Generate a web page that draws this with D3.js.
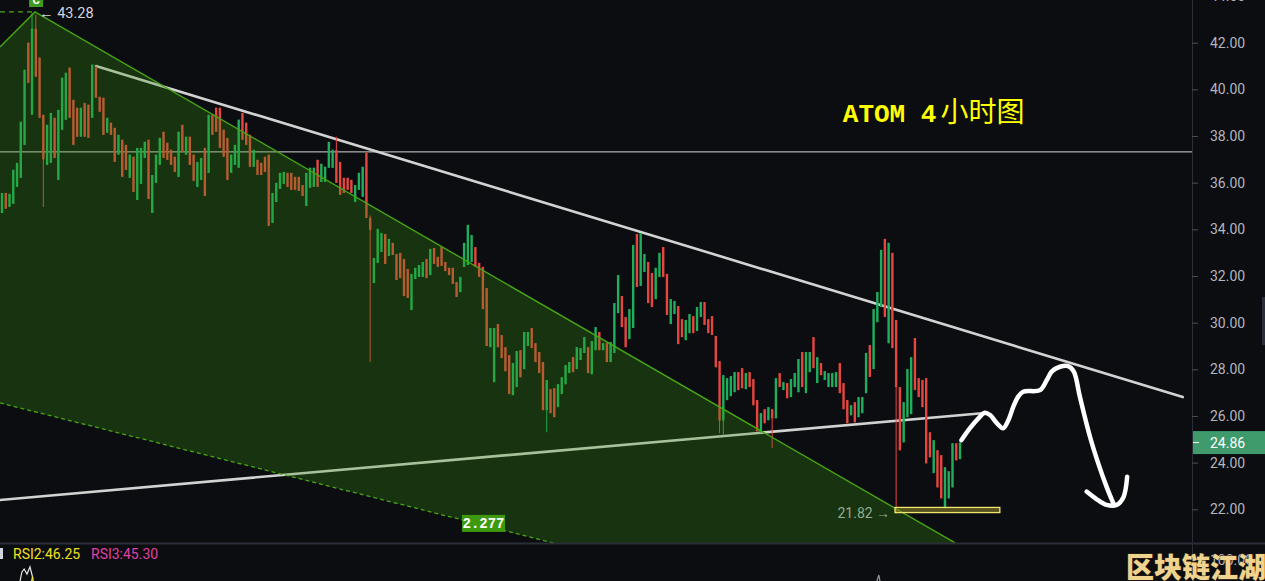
<!DOCTYPE html>
<html>
<head>
<meta charset="utf-8">
<script src="https://cdn.jsdelivr.net/npm/d3@7/dist/d3.min.js"></script>
<style>
  html, body { margin: 0; padding: 0; background: #0c0d10; overflow: hidden; }
  svg { display: block; }
</style>
</head>
<body>
<svg id="chart" width="1265" height="581"></svg>
<script>
// ---------- DATA ----------
// 4h candles, [open, high, low, close]
const candles = [
[34.70,35.56,34.70,35.56],[35.56,35.56,34.88,34.88],[34.96,35.52,34.96,35.52],[35.09,36.55,35.09,36.55],
[35.82,36.85,35.82,36.85],[36.21,38.61,36.21,38.61],[37.62,40.84,37.62,40.84],[42.00,42.00,40.28,40.28],
[38.91,43.28,38.91,42.60],[42.60,43.20,40.54,40.54],[41.36,41.36,38.78,38.78],[38.91,38.91,34.96,37.00],
[36.76,38.48,36.76,38.48],[36.85,38.99,36.85,38.99],[38.78,38.78,37.06,37.06],[36.12,39.12,36.12,39.12],
[38.27,40.50,38.27,40.50],[38.70,40.71,38.70,40.71],[40.93,40.93,38.78,38.78],[39.55,39.55,37.62,37.62],
[39.21,39.21,37.97,37.97],[37.97,39.21,37.97,39.21],[39.42,39.42,37.97,37.97],[39.34,39.34,37.92,37.92],
[38.78,41.06,38.78,41.06],[40.93,41.01,39.64,39.64],[39.68,39.68,39.04,39.04],[39.64,39.64,38.05,38.05],
[38.14,38.78,38.14,38.78],[38.57,38.57,38.05,38.05],[38.35,38.35,36.89,36.89],[37.20,38.05,37.20,38.05],
[37.84,37.84,36.25,36.25],[37.62,37.62,36.55,36.55],[36.21,37.20,36.21,37.20],[37.11,37.11,35.60,35.60],
[35.26,37.49,35.26,37.49],[35.95,37.49,35.95,37.49],[37.06,37.75,37.06,37.75],[37.84,37.84,35.30,35.30],
[34.70,36.33,34.70,36.33],[35.99,37.20,35.99,37.20],[36.76,37.92,36.76,37.92],[38.18,38.18,37.06,37.06],
[37.71,37.71,36.98,36.98],[37.41,37.41,36.76,36.76],[37.11,37.11,36.46,36.46],[36.25,38.18,36.25,38.18],
[38.48,38.48,37.32,37.32],[37.20,37.97,37.20,37.97],[37.97,37.97,36.76,36.76],[37.20,37.20,36.08,36.08],
[35.82,36.89,35.82,36.89],[36.12,37.06,36.12,37.06],[37.49,37.49,35.43,35.43],[36.42,38.91,36.42,38.91],
[38.91,38.91,38.05,38.05],[39.21,39.21,38.18,38.18],[39.21,39.21,37.49,37.49],[38.27,38.27,37.11,37.11],
[37.92,37.92,36.12,36.12],[36.42,37.20,36.42,37.20],[36.76,37.62,36.76,37.62],[36.64,38.70,36.64,38.70],
[38.99,38.99,37.84,37.84],[38.57,38.57,37.62,37.62],[38.05,38.05,36.68,36.68],[36.68,37.41,36.68,37.41],
[36.98,36.98,36.33,36.33],[36.85,36.85,36.33,36.33],[37.11,37.11,36.46,36.46],[37.20,37.20,34.15,34.15],
[34.28,35.56,34.28,35.56],[35.17,35.99,35.17,35.99],[35.73,36.42,35.73,36.42],[35.95,36.46,35.95,36.46],
[36.42,36.42,35.82,35.82],[36.42,36.42,35.69,35.69],[36.25,36.25,35.69,35.69],[36.25,36.25,35.65,35.65],
[35.90,35.90,35.43,35.43],[35.00,36.42,35.00,36.42],[35.78,36.64,35.78,36.64],[35.82,36.64,35.82,36.64],
[36.98,36.98,35.82,35.82],[36.03,36.81,36.03,36.81],[36.03,36.68,36.03,36.68],[36.64,37.75,36.64,37.75],
[36.64,37.41,36.64,37.41],[37.40,37.97,35.99,35.99],[36.89,36.89,35.48,35.48],[36.21,36.21,35.56,35.56],
[36.21,36.21,35.69,35.69],[36.12,36.12,35.56,35.56],[35.17,35.90,35.17,35.90],[35.69,36.42,35.69,36.42],
[35.39,36.68,35.39,36.68],[37.28,37.28,34.49,34.49],[34.49,34.60,28.31,33.98],[31.70,32.77,31.70,32.77],
[32.56,34.02,32.56,34.02],[33.03,33.84,33.03,33.84],[33.80,33.80,32.52,32.52],[32.86,33.59,32.86,33.59],
[33.42,33.42,32.90,32.90],[32.94,32.94,31.83,31.83],[32.99,32.99,31.91,31.91],[32.73,32.73,31.14,31.14],
[32.30,32.30,31.06,31.06],[30.54,32.09,30.54,32.09],[31.87,32.35,31.87,32.35],[31.96,32.47,31.96,32.47],
[31.96,32.60,31.96,32.60],[32.73,32.73,31.91,31.91],[32.04,33.16,32.04,33.16],[33.20,33.20,32.52,32.52],
[32.82,32.82,32.39,32.39],[33.24,33.24,32.43,32.43],[32.60,32.60,32.21,32.21],[32.35,32.35,32.04,32.04],
[32.35,32.35,31.66,31.66],[31.74,31.74,31.10,31.10],[31.31,31.96,31.31,31.96],[32.39,33.42,32.39,33.42],
[32.47,34.19,32.47,34.19],[32.60,33.76,32.60,33.76],[33.24,33.24,32.39,32.39],[32.56,32.56,31.96,31.96],
[32.39,32.39,30.58,30.58],[31.48,31.48,29.00,29.00],[28.95,29.77,28.95,29.77],[27.45,29.77,27.45,29.77],
[29.94,29.94,28.95,28.95],[29.47,29.47,28.48,28.48],[28.95,28.95,27.92,27.92],[28.61,28.61,26.94,26.94],
[26.89,28.27,26.89,28.27],[27.24,28.78,27.24,28.78],[28.82,28.82,27.66,27.66],[28.01,29.60,28.01,29.60],
[29.00,29.60,29.00,29.60],[29.77,29.77,28.91,28.91],[29.12,29.12,28.31,28.31],[28.74,28.74,27.84,27.84],
[28.31,28.31,26.25,26.25],[26.25,27.54,25.30,27.54],[27.15,27.15,26.12,26.12],[27.19,27.19,25.95,25.95],
[26.38,27.36,26.38,27.36],[26.94,27.66,26.94,27.66],[27.36,28.18,27.36,28.18],[27.84,28.31,27.84,28.31],
[28.52,28.52,27.88,27.88],[28.01,28.95,28.01,28.95],[28.40,28.91,28.40,28.91],[28.70,29.38,28.70,29.38],
[28.95,28.95,27.84,27.84],[27.79,29.21,27.79,29.21],[28.82,29.81,28.82,29.81],[29.60,29.60,28.82,28.82],
[28.82,29.12,28.82,29.12],[29.12,29.12,28.31,28.31],[28.31,29.17,28.31,29.17],[28.70,30.84,28.70,30.84],
[30.41,32.04,30.41,32.04],[31.14,31.14,29.81,29.81],[30.24,30.24,28.95,28.95],[29.30,30.58,29.30,30.58],
[29.77,33.33,29.77,33.33],[33.80,33.80,31.53,31.53],[31.57,33.84,31.57,33.84],[32.17,32.94,32.17,32.94],
[32.60,32.60,30.84,30.84],[32.13,32.13,30.67,30.67],[31.01,32.35,31.01,32.35],[31.96,32.99,31.96,32.99],
[33.24,33.24,31.96,31.96],[32.09,32.09,30.33,30.33],[29.94,31.01,29.94,31.01],[30.37,30.93,30.37,30.93],
[30.71,30.71,29.08,29.08],[30.15,30.15,29.38,29.38],[29.25,30.11,29.25,30.11],[29.55,30.37,29.55,30.37],
[30.28,30.28,29.55,29.55],[29.64,30.67,29.64,30.67],[30.24,30.88,30.24,30.88],[30.88,30.88,29.90,29.90],
[30.15,30.15,29.55,29.55],[30.28,30.28,29.47,29.47],[29.43,29.43,28.09,28.09],[28.35,28.35,25.26,25.80],
[25.80,27.75,25.17,27.75],[26.68,27.62,26.68,27.62],[26.85,27.71,26.85,27.71],[27.02,27.88,27.02,27.88],
[27.88,27.88,27.11,27.11],[28.05,28.05,27.19,27.19],[27.15,27.84,27.15,27.84],[27.88,27.88,27.24,27.24],
[27.58,27.58,26.46,26.46],[26.68,26.68,25.34,25.34],[25.30,26.12,25.30,26.12],[26.29,26.29,25.69,25.69],
[25.82,26.38,25.82,26.38],[26.29,26.29,24.62,25.90],[25.90,27.62,25.90,27.62],[27.84,27.84,27.24,27.24],
[27.11,27.45,27.11,27.45],[27.41,27.41,26.76,26.76],[26.81,27.58,26.81,27.58],[27.24,27.84,27.24,27.84],
[27.02,28.44,27.02,28.44],[28.74,28.74,27.24,27.24],[26.98,28.74,26.98,28.74],[27.88,28.74,27.88,28.74],
[29.38,29.38,28.05,28.05],[27.41,28.52,27.41,28.52],[28.27,28.27,27.75,27.75],[27.54,27.92,27.54,27.92],
[27.24,27.84,27.24,27.84],[27.24,27.84,27.24,27.84],[27.24,27.88,27.24,27.88],[28.27,28.27,26.98,26.98],
[27.41,27.41,26.29,26.29],[26.68,26.68,25.69,25.69],[26.03,26.46,26.03,26.46],[26.59,26.59,25.73,25.73],
[25.95,26.81,25.95,26.81],[26.12,26.81,26.12,26.81],[26.98,28.70,26.98,28.70],[29.04,29.04,27.67,27.67],
[28.01,30.58,28.01,30.58],[30.02,31.31,30.02,31.31],[30.67,33.12,30.67,33.12],[33.59,33.59,30.24,30.24],
[29.12,33.42,29.12,33.42],[32.99,32.99,28.91,28.91],[30.11,30.11,21.82,27.24],[27.24,27.24,24.53,24.53],
[24.87,26.59,24.87,26.59],[25.95,28.01,25.95,28.01],[26.08,28.52,26.08,28.52],[29.34,29.34,27.11,27.11],
[27.62,27.62,26.81,26.81],[27.54,27.54,26.38,26.38],[27.62,27.62,23.97,23.97],[25.30,25.30,24.23,24.23],
[23.55,24.96,23.55,24.96],[24.53,24.53,22.94,22.94],[24.32,24.32,22.47,22.47],[22.05,23.80,22.05,23.80],
[22.47,23.63,22.47,23.63],[22.94,24.83,22.94,24.83],[24.83,24.83,24.10,24.10],[24.15,24.96,24.15,24.86]
];

// price axis tick labels
const priceTicks = [22, 24, 26, 28, 30, 32, 34, 36, 38, 40, 42, 44];
const lastPrice = 24.86;
const highLabel = 43.28;
const lowLabel = 21.82;
const channelLabel = "2.277";
const titleText = ["ATOM 4", "小时图"];
const rsiLabels = ["RSI2:46.25", "RSI3:45.30"];
const rsiTopTick = 100;
const watermark = "区块链江湖";

// drawings, as [candle index, price]
const channelTop = [[-0.53, 41.82], [8.78, 43.32], [253.7, 20.56]];
const channelBottom = [[-0.53, 26.56], [146.7, 20.56], [170, 19.60]];
const peakDash = [[-0.53, 43.32], [8.3, 43.32]];
const upperTrend = [[25.0, 41.00], [314.3, 26.81]];
const lowerTrend = [[-0.53, 22.40], [261.6, 26.13]];
const levelLine = 37.32;
const lowBox = [[237.7, 22.08], [265.6, 21.86]];
const forecastPath = [[255.4,24.97],[257.6,25.47],[259.9,25.90],[261.6,26.14],[263.0,26.04],[264.8,25.69],
  [266.5,25.47],[267.9,25.83],[269.2,26.40],[270.5,26.83],[271.8,27.04],[276.3,27.11],[278.1,27.54],
  [279.4,27.90],[281.6,28.11],[283.8,28.14],[285.3,27.90],[286.9,26.83],[289.6,25.11],[291.8,23.97],
  [294.0,22.97],[295.8,22.26]];
const forecastHook = [[288.7,22.76],[291.4,22.43],[294.0,22.19],[296.7,22.19],[298.5,22.52],[299.5,23.40]];
const rsiWhite = [[4.8,82.5],[5.3,90],[5.9,92.5],[6.65,88.3],[7.45,94.2],[8.0,87.5],[8.3,82.5]];
const rsiYellow = [[7.9,82.5],[8.2,86]];
const rsiGray = [[232.9,82.5],[233.4,87.5],[233.7,82.5]];

// ---------- LAYOUT ----------
const W = 1265, H = 581;
const axisX = 1192, paneBottom = 543;
const svg = d3.select("#chart");
svg.append("rect").attr("width", W).attr("height", H).attr("fill", "#0c0d10");

const x = d3.scaleLinear().domain([0, candles.length - 1]).range([2, 960]);
const y = d3.scaleLinear().domain([22, 42]).range([509.3, 42.7]);
const rsiY = d3.scaleLinear().domain([0, 100]).range([680, 560]);

const defs = svg.append("defs");
defs.append("clipPath").attr("id", "main").append("rect").attr("x", 0).attr("y", 0).attr("width", axisX).attr("height", paneBottom);
defs.append("clipPath").attr("id", "rsi").append("rect").attr("x", 0).attr("y", paneBottom + 1).attr("width", axisX).attr("height", H - paneBottom);

const g = svg.append("g").attr("clip-path", "url(#main)");
const line = d3.line().x(d => x(d[0])).y(d => y(d[1]));

// level line
g.append("line").attr("x1", 0).attr("x2", axisX).attr("y1", y(levelLine)).attr("y2", y(levelLine))
  .attr("stroke", "#d6d6d6").attr("stroke-width", 1);

// trend lines
[upperTrend, lowerTrend].forEach(t => {
  g.append("path").attr("d", line(t)).attr("fill", "none").attr("stroke", "#d2d2d2")
    .attr("stroke-width", 2.6).attr("stroke-linecap", "round");
});

// candles
const up = "#1fae5c", down = "#e5463f";
const cg = g.append("g");
const bw = 2.4;
cg.selectAll("line.w").data(candles).join("line")
  .attr("x1", (d, i) => x(i)).attr("x2", (d, i) => x(i))
  .attr("y1", d => y(d[1])).attr("y2", d => y(d[2]))
  .attr("stroke", d => d[3] >= d[0] ? up : down).attr("stroke-width", 1);
cg.selectAll("rect.b").data(candles).join("rect")
  .attr("x", (d, i) => x(i) - bw / 2).attr("width", bw)
  .attr("y", d => y(Math.max(d[0], d[3])))
  .attr("height", d => Math.max(1, Math.abs(y(d[0]) - y(d[3]))))
  .attr("fill", d => d[3] >= d[0] ? up : down);

// low label
const lowIdx = candles.findIndex(d => d[2] === lowLabel);
g.append("text").attr("x", x(lowIdx) - 6).attr("y", y(lowLabel) + 5)
  .attr("text-anchor", "end").attr("fill", "#b2b5be")
  .attr("font-family", "Roboto, 'Noto Sans', sans-serif").attr("font-size", 14)
  .text(d3.format(".2f")(lowLabel) + " →");

// channel fill (semi-transparent, drawn over candles)
const poly = channelTop.concat(channelBottom.slice().reverse());
g.append("path").attr("d", line(poly) + "Z").attr("fill", "rgba(56,150,16,0.28)");
g.append("path").attr("d", line(channelTop)).attr("fill", "none").attr("stroke", "#46a615").attr("stroke-width", 1.4);
g.append("path").attr("d", line(channelBottom)).attr("fill", "none").attr("stroke", "#46a615")
  .attr("stroke-width", 1.3).attr("stroke-dasharray", "4,3");
g.append("path").attr("d", line(peakDash)).attr("fill", "none").attr("stroke", "#46a615")
  .attr("stroke-width", 1.3).attr("stroke-dasharray", "5,4");

// channel label
const cl = g.append("g").attr("transform", `translate(${x(122.45)},${y(21.76)})`);
cl.append("rect").attr("width", 43).attr("height", 17).attr("fill", "#3d9a0e");
cl.append("text").attr("x", 21.5).attr("y", 13).attr("text-anchor", "middle").attr("fill", "#ffffff")
  .attr("font-family", "'Liberation Mono', 'DejaVu Sans Mono', monospace").attr("font-weight", "bold")
  .attr("font-size", 14).text(channelLabel);

// high marker
const hiIdx = candles.findIndex(d => d[1] === highLabel);
g.append("rect").attr("x", x(hiIdx) - 3).attr("y", -7).attr("width", 14).attr("height", 14).attr("fill", "#3d9a22");
g.append("text").attr("x", x(hiIdx) + 4).attr("y", 4).attr("text-anchor", "middle").attr("fill", "#ffffff")
  .attr("font-family", "Roboto, sans-serif").attr("font-weight", "bold").attr("font-size", 11).text("C");
g.append("text").attr("x", x(hiIdx) + 7).attr("y", y(highLabel) + 5).attr("fill", "#d1d4dc")
  .attr("font-family", "Roboto, 'Noto Sans', sans-serif").attr("font-size", 14.5)
  .text("← " + d3.format(".2f")(highLabel));

// low box
g.append("rect").attr("x", x(lowBox[0][0])).attr("y", y(lowBox[0][1]))
  .attr("width", x(lowBox[1][0]) - x(lowBox[0][0])).attr("height", y(lowBox[1][1]) - y(lowBox[0][1]))
  .attr("fill", "rgba(150,140,40,0.55)").attr("stroke", "#f2e56e").attr("stroke-width", 1.3);

// hand-drawn forecast
const hand = d3.line().x(d => x(d[0])).y(d => y(d[1])).curve(d3.curveCatmullRom.alpha(0.5));
[forecastPath, forecastHook].forEach(p => {
  g.append("path").attr("d", hand(p)).attr("fill", "none").attr("stroke", "#ffffff")
    .attr("stroke-width", 4.5).attr("stroke-linecap", "round").attr("stroke-linejoin", "round");
});

// title
const title = g.append("text").attr("x", x(223.8)).attr("y", y(38.60)).attr("fill", "#ffff00");
title.append("tspan").attr("font-family", "'Liberation Mono', 'DejaVu Sans Mono', monospace")
  .attr("font-weight", "bold").attr("font-size", 26).attr("xml:space", "preserve").text(titleText[0]);
title.append("tspan").attr("font-family", "'Noto Sans CJK SC', sans-serif").attr("font-weight", 400)
  .attr("font-size", 28).attr("dx", 4).text(titleText[1]);

// ---------- RSI pane ----------
const rg = svg.append("g").attr("clip-path", "url(#rsi)");
const rl = d3.line().x(d => x(d[0])).y(d => rsiY(d[1]));
rg.append("path").attr("d", rl(rsiWhite)).attr("fill", "none").attr("stroke", "#e8e8e8").attr("stroke-width", 1.2);
rg.append("path").attr("d", rl(rsiYellow)).attr("fill", "none").attr("stroke", "#f0e020").attr("stroke-width", 1.6);
rg.append("path").attr("d", rl(rsiGray)).attr("fill", "none").attr("stroke", "#9598a1").attr("stroke-width", 1.2);
svg.append("rect").attr("x", 0).attr("y", 548).attr("width", 3).attr("height", 11).attr("fill", "#d1d4dc");
const rt = svg.append("text").attr("y", 559).attr("font-family", "Roboto, 'Noto Sans', sans-serif").attr("font-size", 14);
rt.append("tspan").attr("x", 13).attr("fill", "#f0e020").text(rsiLabels[0]);
rt.append("tspan").attr("x", 91).attr("fill", "#e040a8").text(rsiLabels[1]);

// ---------- separators & axis ----------
svg.append("line").attr("x1", 0).attr("x2", W).attr("y1", paneBottom + 0.5).attr("y2", paneBottom + 0.5)
  .attr("stroke", "#2a2e39").attr("stroke-width", 2);
svg.append("line").attr("x1", axisX + 0.5).attr("x2", axisX + 0.5).attr("y1", 0).attr("y2", H)
  .attr("stroke", "#2a2e39").attr("stroke-width", 1);

const ax = svg.append("g").attr("transform", `translate(${axisX},0)`)
  .call(d3.axisRight(y).tickValues(priceTicks).tickFormat(d3.format(".2f")).tickSize(6).tickPadding(12));
ax.select(".domain").remove();
ax.selectAll(".tick line").attr("stroke", "#4a4e59");
ax.selectAll(".tick text").attr("fill", "#b2b5be").attr("font-size", 14)
  .attr("font-family", "Roboto, 'Noto Sans', sans-serif");

// last price tag
const tag = svg.append("g").attr("transform", `translate(${axisX},${y(lastPrice)})`);
tag.append("rect").attr("x", 1).attr("y", -11.5).attr("width", W - axisX).attr("height", 23).attr("fill", "#3f9b6c");
tag.append("line").attr("x1", 1).attr("x2", 7).attr("y1", 0).attr("y2", 0).attr("stroke", "#ffffff");
tag.append("text").attr("x", 18).attr("y", 5).attr("fill", "#ffffff").attr("font-size", 14)
  .attr("font-family", "Roboto, 'Noto Sans', sans-serif").text(d3.format(".2f")(lastPrice));

// scroll sliver
svg.append("rect").attr("x", 1262).attr("y", 297).attr("width", 3).attr("height", 48).attr("fill", "#2a2e39");

// RSI top tick
svg.append("text").attr("x", axisX + 18).attr("y", rsiY(rsiTopTick) + 5).attr("fill", "#b2b5be")
  .attr("font-size", 14).attr("font-family", "Roboto, 'Noto Sans', sans-serif").text(d3.format(".2f")(rsiTopTick));

// watermark
svg.append("text").attr("x", W + 1).attr("y", 578).attr("text-anchor", "end")
  .attr("font-family", "'Noto Sans CJK SC', sans-serif").attr("font-weight", 900).attr("font-size", 28)
  .attr("fill", "#efd38e").attr("stroke", "#5a4520").attr("stroke-width", 0.6).attr("paint-order", "stroke")
  .text(watermark);
</script>
</body>
</html>
